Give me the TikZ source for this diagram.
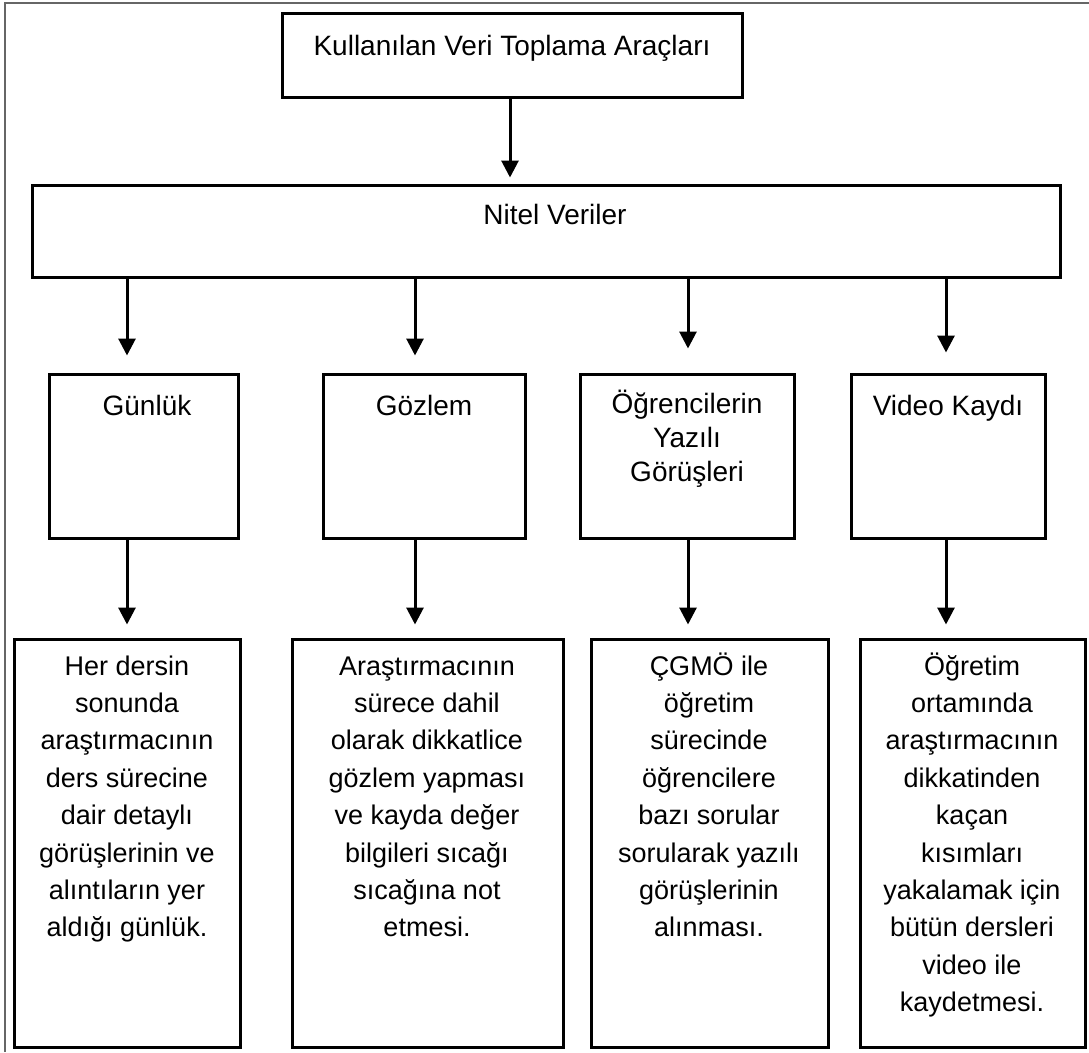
\documentclass[tikz,border=0pt]{standalone}
\usepackage{fontspec}
\setmainfont{Liberation Sans}
\usetikzlibrary{arrows.meta}
\newcommand\mlines[1]{\begin{tabular}[t]{@{}c@{}}#1\end{tabular}}
\begin{document}
\begin{tikzpicture}[x=1pt,y=-1pt,
  box/.style={draw=black,line width=3pt,rectangle,inner sep=0pt},
  arr/.style={line width=3pt,-{Triangle[width=17pt,length=17pt]}},
  txt/.style={anchor=base,inner sep=0pt,font=\fontsize{28}{34}\selectfont},
  txtb/.style={anchor=base,inner sep=0pt,font=\fontsize{27}{37.4}\selectfont}]
\useasboundingbox (0,0) rectangle (1089,1052);
\path[fill=white] (0,0) rectangle (1089,1052);
\draw[gray!80!black,line width=1.5pt] (5,1052) -- (5,3) -- (1089,3);

% top
\node[box,minimum width=460pt,minimum height=84pt] (top) at (512,55) {};
\node[txt] (toptxt) at (512,55) {Kullanılan Veri Toplama Araçları};
% nitel
\node[box,minimum width=1028pt,minimum height=92pt] (nitel) at (546,231) {};
\node[txt] (niteltxt) at (555,224) {Nitel Veriler};

% row 2
\node[box,minimum width=189pt,minimum height=164pt] (g1) at (143.5,456) {};
\node[box,minimum width=202pt,minimum height=164pt] (g2) at (424,456) {};
\node[box,minimum width=214pt,minimum height=164pt] (g3) at (687,456) {};
\node[box,minimum width=194pt,minimum height=164pt] (g4) at (948,456) {};
\node[txt] (g1t) at (147,415) {Günlük};
\node[txt] (g2t) at (424,415) {Gözlem};
\node[txt] (g3t) at (687,413) {\mlines{Öğrencilerin\\Yazılı\\Görüşleri}};
\node[txt] (g4t) at (948,415) {Video Kaydı};

% row 3
\node[box,minimum width=226pt,minimum height=408pt] (d1) at (127,843) {};
\node[box,minimum width=271pt,minimum height=408pt] (d2) at (427.5,843) {};
\node[box,minimum width=237pt,minimum height=408pt] (d3) at (709.5,843) {};
\node[box,minimum width=225pt,minimum height=408pt] (d4) at (972.5,843) {};
\node[txtb] (d1t) at (127,675) {\mlines{Her dersin\\sonunda\\araştırmacının\\ders sürecine\\dair detaylı\\görüşlerinin ve\\alıntıların yer\\aldığı günlük.}};
\node[txtb] (d2t) at (427,675) {\mlines{Araştırmacının\\sürece dahil\\olarak dikkatlice\\gözlem yapması\\ve kayda değer\\bilgileri sıcağı\\sıcağına not\\etmesi.}};
\node[txtb] (d3t) at (709,675) {\mlines{ÇGMÖ ile\\öğretim\\sürecinde\\öğrencilere\\bazı sorular\\sorularak yazılı\\görüşlerinin\\alınması.}};
\node[txtb] (d4t) at (972,675) {\mlines{Öğretim\\ortamında\\araştırmacının\\dikkatinden\\kaçan\\kısımları\\yakalamak için\\bütün dersleri\\video ile\\kaydetmesi.}};

% arrow x positions
\coordinate (a0) at (510,0);
\coordinate (a1) at (127,0);
\coordinate (a2) at (415,0);
\coordinate (a3) at (688,0);
\coordinate (a4) at (946,0);

\draw[arr] (top.south -| a0) -- ([yshift=6pt]nitel.north -| a0);
\draw[arr] (nitel.south -| a1) -- ([yshift=17pt]g1.north -| a1);
\draw[arr] (nitel.south -| a2) -- ([yshift=17pt]g2.north -| a2);
\draw[arr] (nitel.south -| a3) -- ([yshift=24pt]g3.north -| a3);
\draw[arr] (nitel.south -| a4) -- ([yshift=20pt]g4.north -| a4);
\draw[arr] (g1.south -| a1) -- ([yshift=13pt]d1.north -| a1);
\draw[arr] (g2.south -| a2) -- ([yshift=13pt]d2.north -| a2);
\draw[arr] (g3.south -| a3) -- ([yshift=13pt]d3.north -| a3);
\draw[arr] (g4.south -| a4) -- ([yshift=13pt]d4.north -| a4);
\end{tikzpicture}
\end{document}
